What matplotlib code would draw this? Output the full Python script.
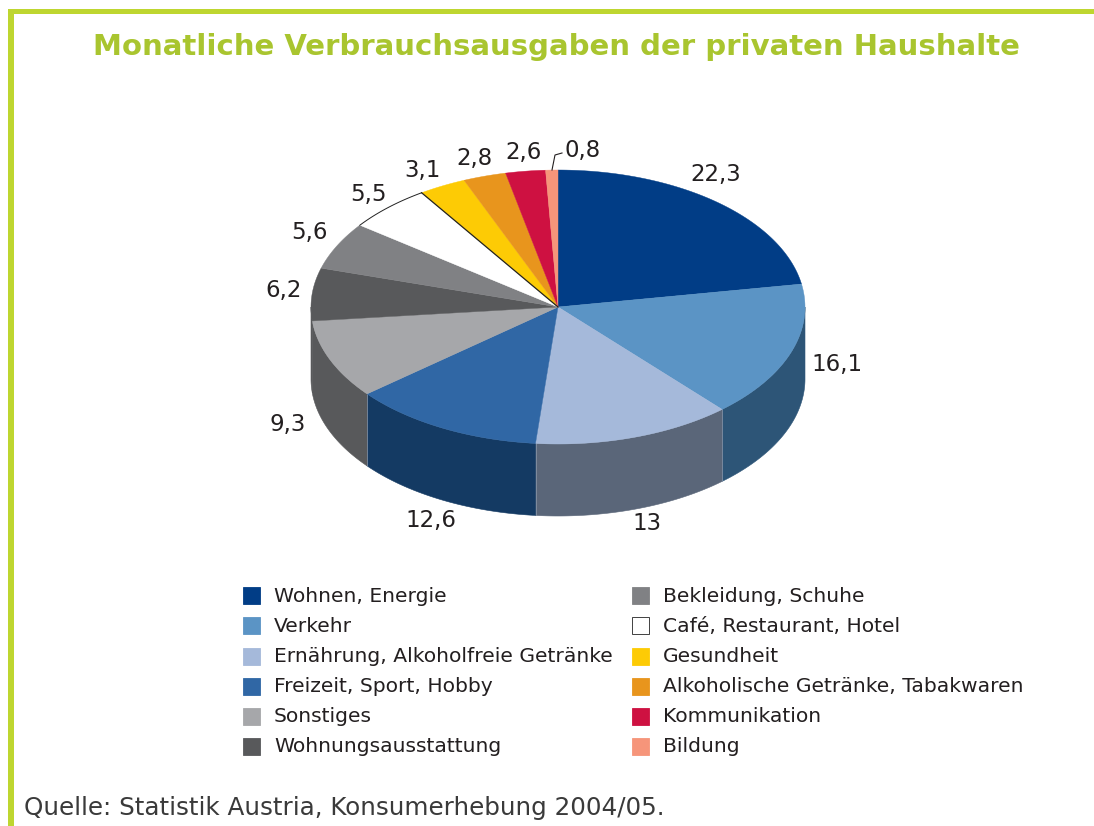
import numpy as np
import matplotlib
matplotlib.use('Agg')
import matplotlib.pyplot as plt

# --- DATI ---
categories = ['Wohnen, Energie', 'Verkehr', 'Ernährung, Alkoholfreie Getränke',
              'Freizeit, Sport, Hobby', 'Sonstiges', 'Wohnungsausstattung',
              'Bekleidung, Schuhe', 'Café, Restaurant, Hotel', 'Gesundheit',
              'Alkoholische Getränke, Tabakwaren', 'Kommunikation', 'Bildung']
values = [22.3, 16.1, 13, 12.6, 9.3, 6.2, 5.6, 5.5, 3.1, 2.8, 2.6, 0.8]
value_labels = ['22,3', '16,1', '13', '12,6', '9,3', '6,2', '5,6', '5,5', '3,1', '2,8', '2,6', '0,8']

colors = ['#013d86', '#5b94c5', '#a5b9da', '#3067a5', '#a6a7aa', '#58595b',
          '#808184', '#ffffff', '#fdcb05', '#e8951d', '#ce1141', '#f6957a']
side_colors = {1: '#2d5577', 2: '#5a6679', 3: '#143a63', 4: '#58595b', 5: '#58595b'}

# label centres in pixels
label_pos = [(716, 175), (837, 365), (647, 523), (431, 520), (288, 425), (284, 290),
             (309, 233), (368, 194), (423, 171), (475, 158), (524, 152), (583, 151)]

# --- GEOMETRIA ---
cx, cy = 558, 307
rx, ry = 247, 137
depth = 72


def arc(a0, a1):
    t = np.radians(np.linspace(a0, a1, 120))
    return cx + rx * np.cos(t), cy - ry * np.sin(t)


fig = plt.figure(figsize=(10.94, 8.26), dpi=100)
ax = fig.add_axes([0, 0, 1, 1])
ax.set_xlim(0, 1094)
ax.set_ylim(826, 0)
ax.axis('off')

# bordo verde
green = '#bed630'
ax.fill([8, 1094, 1094, 14, 14, 8], [9, 9, 14, 14, 826, 826], color=green, lw=0)

ax.text(556, 47, 'Monatliche Verbrauchsausgaben der privaten Haushalte', color='#a9c52f',
        fontsize=21, fontweight='bold', ha='center', va='center')

# angoli delle fette, dall'alto in senso orario
edges = 90 - 3.6 * np.concatenate([[0], np.cumsum(values)]) * 100 / sum(values)

# parete laterale
for i, col in side_colors.items():
    # only the front half of the rim is visible
    a0 = min(edges[i], 0)
    a1 = max(edges[i + 1], -180)
    x, y = arc(a0, a1)
    ax.fill(np.r_[x, x[::-1]], np.r_[y, y[::-1] + depth], color=col, lw=0.4, ec=col, zorder=2)
# sottili separazioni chiare fra le pareti
for i in [2, 3, 4]:
    x, y = arc(edges[i], edges[i])
    ax.plot([x[0], x[0]], [y[0], y[0] + depth], color='#8d9aae', lw=0.5, zorder=3)

# faccia superiore
for i, col in enumerate(colors):
    x, y = arc(edges[i], edges[i + 1])
    ax.fill(np.r_[cx, x], np.r_[cy, y], color=col, lw=0.3, ec=col, zorder=4)
    if col == '#ffffff':
        ax.plot(x, y, color='#222222', lw=0.7, zorder=5)
        ax.plot([x[-1], cx], [y[-1], cy], color='#222222', lw=0.9, zorder=6)

# etichette
for txt, (lx, ly) in zip(value_labels, label_pos):
    ax.text(lx, ly, txt, fontsize=16.5, color='#231f20', ha='center', va='center', zorder=7)
ax.plot([552, 555, 562], [170, 155, 153], color='#231f20', lw=0.8, zorder=7)

# legenda
key_x = [243, 632]
text_x = [274, 663]
row_y = [596, 626, 657, 687, 717, 747]
for i, (name, col) in enumerate(zip(categories, colors)):
    c, r = divmod(i, 6)
    ax.add_patch(plt.Rectangle((key_x[c], row_y[r] - 9), 17, 17, fc=col,
                               ec='#222222' if col == '#ffffff' else col, lw=0.6))
    ax.text(text_x[c], row_y[r], name, fontsize=14.6, color='#231f20', ha='left', va='center')

ax.text(24, 808, 'Quelle: Statistik Austria, Konsumerhebung 2004/05.', fontsize=17.7,
        color='#3a3a3a', ha='left', va='center')

fig.savefig('out.png', dpi=100)
